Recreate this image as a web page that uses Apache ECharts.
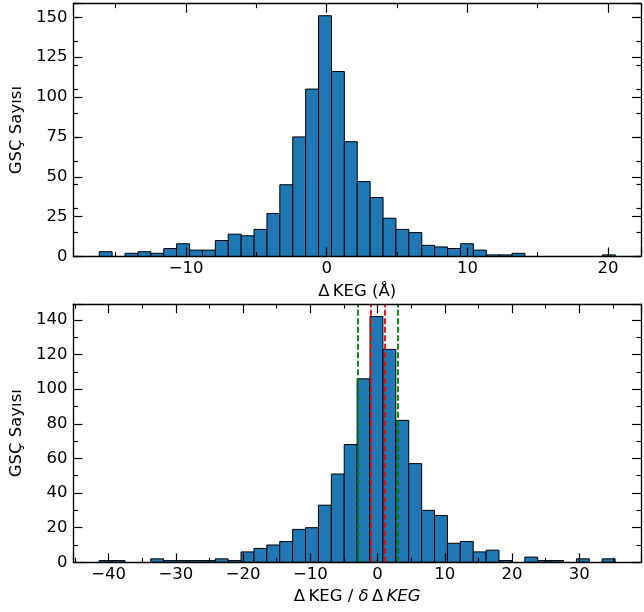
<!DOCTYPE html>
<html><head><meta charset="utf-8">
<script src="https://cdn.jsdelivr.net/npm/echarts@6/dist/echarts.min.js"></script>
<style>html,body{margin:0;padding:0;background:#fff}#c{width:644px;height:612px}</style>
</head><body><div id="c"></div>
<script>
// ---- data ----
const topCounts = [3,0,2,3,2,5,8,4,4,10,14,13,17,27,45,75,105,151,116,72,47,37,24,17,15,7,6,5,8,4,1,1,2,0,0,0,0,0,0,1];
const topBinStart = -16.17;
const topBinWidth = 0.917;
const bottomCounts = [1,1,0,0,2,1,1,1,1,2,1,6,8,10,12,19,20,33,51,68,106,142,123,82,57,30,27,11,12,6,7,1,0,3,1,1,0,2,0,2];
const bottomBinStart = -41.42;
const bottomBinWidth = 1.919;
const redLines = [-1, 1];
const greenLines = [-3, 3];
const topXTickLabels = [-10, 0, 10, 20];
const topYTickLabels = [0, 25, 50, 75, 100, 125, 150];
const bottomXTickLabels = [-40, -30, -20, -10, 0, 10, 20, 30];
const bottomYTickLabels = [0, 20, 40, 60, 80, 100, 120, 140];
const topXLabel = 'Δ\u2009KEG (Å)';
const bottomXLabel = 'Δ\u2009KEG / {i|δ}\u2009Δ\u2009{i|KEG}';
const yLabel = 'GSÇ Sayısı';

// ---- layout ----
const FONT = 'DejaVu Sans';
const FS = 16.5;
const topX = [-18.007, 22.34];
const topY = [0, 158.55];
const botX = [-45.25, 39.19];
const botY = [0, 149.1];

const fmt = (list) => (v) => {
  const m = list.find(t => Math.abs(t - v) < 1e-6);
  return m === undefined ? '' : (m < 0 ? '\u2212' + Math.abs(m) : String(m));
};

function valAxis(o) {
  return {
    type: 'value', gridIndex: o.grid, position: o.pos,
    min: o.range[0], max: o.range[1],
    minInterval: o.step, maxInterval: o.step,
    splitNumber: Math.max(1, Math.round((o.range[1] - o.range[0]) / o.step)),
    axisLine: {show: o.line !== false, onZero: false, lineStyle: {color: '#000', width: 1.3}},
    axisTick: {show: true, inside: true, length: o.tickLen || 9, lineStyle: {color: '#000', width: 1.2}},
    minorTick: {show: !!o.minor, splitNumber: o.minor || 2, length: 4.5, lineStyle: {color: '#000', width: 1.1}},
    splitLine: {show: false}, minorSplitLine: {show: false},
    axisLabel: o.labels ? {show: true, formatter: fmt(o.labels), fontFamily: FONT, fontSize: FS,
      color: '#000', margin: o.margin, hideOverlap: false} : {show: false},
    name: o.name || '', nameLocation: 'middle', nameGap: o.nameGap || 0,
    nameTextStyle: {fontFamily: FONT, fontSize: FS, color: '#000',
      rich: {i: {fontFamily: FONT, fontSize: FS, fontStyle: 'italic', color: '#000'}}},
    z: 5
  };
}

function hist(counts, start, width, xi, yi, extra) {
  const data = counts.map((c, i) => [start + i * width, start + (i + 1) * width, c]);
  return Object.assign({
    type: 'custom', xAxisIndex: xi, yAxisIndex: yi, data: data,
    encode: {x: [0, 1], y: 2},
    renderItem: (params, api) => {
      const c = api.value(2);
      if (!c) return null;
      const p0 = api.coord([api.value(0), 0]);
      const p1 = api.coord([api.value(1), c]);
      return {type: 'rect',
        shape: {x: p0[0], y: p1[1], width: p1[0] - p0[0], height: p0[1] - p1[1]},
        style: {fill: '#1f77b4', stroke: '#000', lineWidth: 1}};
    }
  }, extra || {});
}

const chart = echarts.init(document.getElementById('c'), null, {renderer: 'canvas'});
chart.setOption({
  animation: false,
  backgroundColor: '#fff',
  grid: [
    {left: 67.3, top: 3.7, width: 579, height: 252.8},
    {left: 67.3, top: 304.2, width: 579, height: 258.1}
  ],
  xAxis: [
    valAxis({grid: 0, pos: 'bottom', range: topX, step: 10, minor: 2, labels: topXTickLabels, margin: 4, name: topXLabel, nameGap: 27}),
    valAxis({grid: 0, pos: 'top', range: topX, step: 10, minor: 2}),
    valAxis({grid: 1, pos: 'bottom', range: botX, step: 10, minor: 2, labels: bottomXTickLabels, margin: 4, name: bottomXLabel, nameGap: 26}),
    valAxis({grid: 1, pos: 'top', range: botX, step: 10, minor: 2})
  ],
  yAxis: [
    valAxis({grid: 0, pos: 'left', range: topY, step: 25, labels: topYTickLabels, margin: 6, name: yLabel, nameGap: 43}),
    valAxis({grid: 0, pos: 'right', range: topY, step: 25}),
    valAxis({grid: 0, pos: 'left', range: topY, step: 15, line: false, tickLen: 4.5}),
    valAxis({grid: 0, pos: 'right', range: topY, step: 15, line: false, tickLen: 4.5}),
    valAxis({grid: 1, pos: 'left', range: botY, step: 20, minor: 2, labels: bottomYTickLabels, margin: 6, name: yLabel, nameGap: 43}),
    valAxis({grid: 1, pos: 'right', range: botY, step: 20, minor: 2})
  ],
  series: [
    hist(topCounts, topBinStart, topBinWidth, 0, 0),
    hist(bottomCounts, bottomBinStart, bottomBinWidth, 2, 4, {
      markLine: {
        silent: true, symbol: 'none', animation: false, label: {show: false},
        data: redLines.map(v => ({xAxis: v, lineStyle: {color: '#ff0000', type: [6, 2.5], width: 1.8}}))
          .concat(greenLines.map(v => ({xAxis: v, lineStyle: {color: '#008000', type: [6, 2.5], width: 1.8}})))
      }
    })
  ]
});
</script>
</body></html>
